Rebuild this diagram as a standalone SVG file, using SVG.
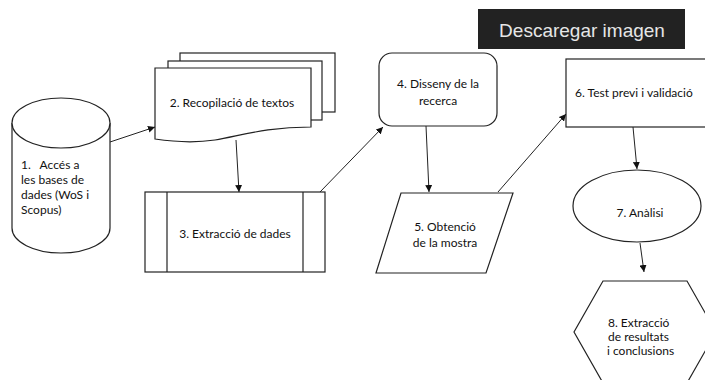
<svg xmlns="http://www.w3.org/2000/svg" width="705" height="380" viewBox="0 0 705 380">
  <defs>
    <marker id="ah" viewBox="0 0 10 10" refX="10" refY="5" markerWidth="7" markerHeight="7" markerUnits="userSpaceOnUse" orient="auto">
      <path d="M0,0 L10,5 L0,10 Z" fill="#111"/>
    </marker>
    <style>
      .s { fill: #fff; stroke: #222; stroke-width: 1.2; }
      .t { font-family: Lato, "Liberation Sans", sans-serif; font-size: 12px; fill: #111; }
      .c { text-anchor: middle; }
      .e { fill: none; stroke: #222; stroke-width: 1; marker-end: url(#ah); }
    </style>
  </defs>
  <rect width="705" height="380" fill="#fff"/>

  <g id="node1">
    <path class="s" d="M12,123 V228 A49,25 0 0 0 110,228 V123"/>
    <ellipse class="s" cx="61" cy="123" rx="49" ry="25"/>
    <text class="t" x="21" y="169" xml:space="preserve">1.   Accés a</text>
    <text class="t" x="21" y="184">les bases de</text>
    <text class="t" x="21" y="199">dades (WoS i</text>
    <text class="t" x="21" y="214">Scopus)</text>
  </g>

  <g id="node2">
    <rect class="s" x="180" y="53" width="155" height="59"/>
    <rect class="s" x="168" y="61" width="154" height="59"/>
    <path class="s" d="M155,68 H311 V127 C265,127 240,136 215,140 C195,143 175,142 155,139 Z"/>
    <text class="t c" x="232" y="107">2. Recopilació de textos</text>
  </g>

  <g id="node3">
    <rect class="s" x="145" y="192" width="180" height="80"/>
    <line class="s" x1="167" y1="192" x2="167" y2="272"/>
    <line class="s" x1="303" y1="192" x2="303" y2="272"/>
    <text class="t c" x="235" y="238">3. Extracció de dades</text>
  </g>

  <g id="node4">
    <rect class="s" x="379" y="53" width="118" height="73" rx="13"/>
    <text class="t c" x="438" y="88">4. Disseny de la</text>
    <text class="t c" x="438" y="105">recerca</text>
  </g>

  <g id="node5">
    <path class="s" d="M401,193 H513 L486,273 H376 Z"/>
    <text class="t c" x="445" y="231">5. Obtenció</text>
    <text class="t c" x="445" y="247">de la mostra</text>
  </g>

  <g id="node6">
    <rect class="s" x="566" y="59" width="150" height="68"/>
    <text class="t" x="575" y="97">6. Test previ i validació</text>
  </g>

  <g id="node7">
    <ellipse class="s" cx="637" cy="206" rx="64" ry="36"/>
    <text class="t c" x="640" y="217">7. Anàlisi</text>
  </g>

  <g id="node8">
    <path class="s" d="M603,281 H687 L716,332 L687,383 H603 L574,332 Z"/>
    <text class="t" x="608" y="327">8. Extracció</text>
    <text class="t" x="608" y="341">de resultats</text>
    <text class="t" x="607" y="355">i conclusions</text>
  </g>

  <g id="connectors">
    <line class="e" x1="110" y1="142" x2="155" y2="127"/>
    <line class="e" x1="236" y1="140" x2="239" y2="192"/>
    <line class="e" x1="320" y1="192" x2="383" y2="127"/>
    <line class="e" x1="426" y1="126" x2="429" y2="192"/>
    <line class="e" x1="498" y1="192" x2="566" y2="114"/>
    <line class="e" x1="633" y1="127" x2="637" y2="169"/>
    <line class="e" x1="640" y1="243" x2="644" y2="272"/>
  </g>

  <g id="button">
    <rect x="478" y="9" width="207" height="40" fill="#222"/>
    <text x="582" y="37" text-anchor="middle" font-family="'Liberation Sans', Arial, sans-serif" font-size="19" fill="#e6e6e6">Descaregar imagen</text>
  </g>
</svg>
